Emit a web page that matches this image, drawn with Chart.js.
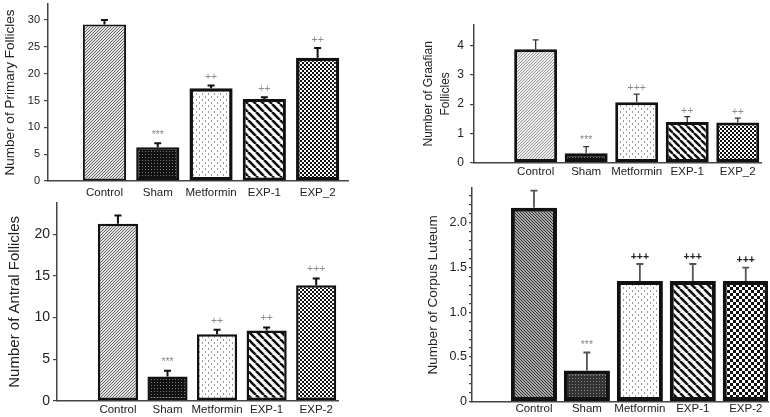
<!DOCTYPE html>
<html>
<head>
<meta charset="utf-8">
<script src="https://cdn.jsdelivr.net/npm/chart.js@4.4.0/dist/chart.umd.min.js"></script>
<style>
  body { margin: 0; background: #fff; }
  #page { position: relative; width: 770px; height: 417px; overflow: hidden; }
  canvas { position: absolute; }
</style>
</head>
<body>
<div id="page">
  <canvas id="primary"></canvas>
  <canvas id="graafian"></canvas>
  <canvas id="antral"></canvas>
  <canvas id="luteum"></canvas>
</div>
<script>
// group names
const groupsTop = ['Control', 'Sham', 'Metformin', 'EXP-1', 'EXP_2'];
const groupsBottom = ['Control', 'Sham', 'Metformin', 'EXP-1', 'EXP-2'];

// primary follicles
const primaryMeans = [29.2, 6.3, 17.3, 15.3, 23.0];
const primarySEM = [0.8, 0.75, 0.5, 0.3, 1.8];
const primaryMarks = ['', '***', '++', '++', '++'];
const primaryTicks = [0, 5, 10, 15, 20, 25, 30];

// graafian follicles
const graafianMeans = [3.87, 0.32, 2.06, 1.39, 1.37];
const graafianSEM = [0.32, 0.23, 0.28, 0.18, 0.15];
const graafianMarks = ['', '***', '+++', '++', '++'];
const graafianTicks = [0, 1, 2, 3, 4];

// antral follicles
const antralMeans = [21.3, 2.9, 8.0, 8.45, 13.9];
const antralSEM = [1.0, 0.7, 0.55, 0.37, 0.8];
const antralMarks = ['', '***', '++', '++', '+++'];
const antralTicks = [0, 5, 10, 15, 20];

// corpus luteum
const luteumMeans = [2.17, 0.35, 1.35, 1.35, 1.35];
const luteumSEM = [0.19, 0.2, 0.19, 0.19, 0.15];
const luteumMarks = ['', '***', '+++', '+++', '+++'];
const luteumTicks = [0, 0.5, 1.0, 1.5, 2.0];
const luteumTickLabels = ['0', '0.5', '1.0', '1.5', '2.0'];

const FONT = 'Liberation Sans, Arial, sans-serif';

// small canvas tiles for the bar fills
function pattern(kind, size, bg, fg, lw) {
    const c = document.createElement('canvas');
    c.width = c.height = size;
    const g = c.getContext('2d');
    g.fillStyle = bg;
    g.fillRect(0, 0, size, size);
    g.fillStyle = fg;
    g.strokeStyle = fg;
    g.lineWidth = lw || 1;
    if (kind === 'fwd' || kind === 'back') {
        for (const k of [-size, 0, size]) {
            g.beginPath();
            if (kind === 'fwd') { g.moveTo(k, size); g.lineTo(k + size, 0); }
            else { g.moveTo(k, 0); g.lineTo(k + size, size); }
            g.stroke();
        }
    } else if (kind === 'dots') {
        g.fillRect(1, 1, 1, 1);
    } else if (kind === 'dash') {
        g.fillRect(1, 0, 1, 2);
        g.fillRect(size / 2 + 1, size / 2, 1, 2);
    } else if (kind === 'checker') {
        const h = size / 2;
        g.fillRect(0, 0, h, h);
        g.fillRect(h, h, h, h);
    }
    return g.createPattern(c, 'repeat');
}

const errorBars = {
    id: 'errorBars',
    afterDatasetsDraw(chart, args, opts) {
        const {ctx} = chart;
        const y = chart.scales.y;
        const points = chart.data.datasets[0].data;
        ctx.save();
        chart.getDatasetMeta(0).data.forEach((bar, i) => {
            const top = y.getPixelForValue(points[i].y + opts.err[i]);
            ctx.strokeStyle = opts.color;
            ctx.lineWidth = opts.width;
            ctx.beginPath();
            ctx.moveTo(bar.x, bar.y);
            ctx.lineTo(bar.x, top);
            ctx.moveTo(bar.x - opts.cap / 2, top);
            ctx.lineTo(bar.x + opts.cap / 2, top);
            ctx.stroke();
            const mark = opts.marks[i];
            if (mark) {
                const dark = opts.darkPlus && mark[0] === '+';
                ctx.fillStyle = dark ? '#222' : '#8a8a8a';
                ctx.font = dark ? 'bold 10.5px ' + FONT : '10.5px ' + FONT;
                ctx.textAlign = 'center';
                ctx.textBaseline = 'middle';
                ctx.fillText(mark, bar.x, top - opts.gap);
            }
        });
        ctx.restore();
    }
};
Chart.register(errorBars);

// p.area = [left, right, top, bottom] of the plot inside the canvas
function panel(id, p) {
    const cv = document.getElementById(id);
    cv.width = p.w;
    cv.height = p.h;
    cv.style.left = p.left + 'px';
    cv.style.top = p.top + 'px';
    return new Chart(cv, {
        type: 'bar',
        data: {
            datasets: [{
                data: p.means.map((v, i) => ({x: i, y: v})),
                backgroundColor: p.fills,
                borderColor: '#111',
                borderWidth: p.border,
                borderSkipped: false,
                categoryPercentage: 1,
                barPercentage: p.barPct
            }]
        },
        options: {
            responsive: false,
            animation: false,
            layout: {padding: {left: 0, right: p.w - p.area[1], top: p.area[2], bottom: 0}},
            plugins: {
                legend: {display: false},
                tooltip: {enabled: false},
                errorBars: p.err
            },
            scales: {
                x: {
                    type: 'linear',
                    min: p.xRange[0],
                    max: p.xRange[1],
                    offset: false,
                    grid: {display: false, drawTicks: false},
                    border: {display: true, color: '#444', width: 1.5},
                    afterBuildTicks: s => { s.ticks = p.groups.map((g, i) => ({value: i})); },
                    afterFit: s => { s.height = p.h - p.area[3]; s.paddingLeft = 0; s.paddingRight = 0; },
                    ticks: {
                        autoSkip: false, maxRotation: 0,
                        padding: p.xPad, color: '#222',
                        font: {family: FONT, size: 11.5},
                        callback: v => p.groups[v]
                    }
                },
                y: {
                    min: 0,
                    max: p.yMax,
                    grid: {display: true, drawOnChartArea: false, tickLength: p.tickLen, color: '#444', lineWidth: 1.2},
                    border: {display: true, color: '#444', width: 1.5},
                    afterBuildTicks: s => { s.ticks = p.ticks.map(v => ({value: v})); },
                    afterFit: s => { s.width = p.area[0]; s.paddingTop = 0; s.paddingBottom = 0; },
                    ticks: {
                        autoSkip: false,
                        padding: p.yPad, color: '#222',
                        font: {family: FONT, size: p.tickFont},
                        callback: p.tickLabel || (v => String(v))
                    },
                    title: {
                        display: true, text: p.title, color: '#222',
                        font: {family: FONT, size: p.titleFont, lineHeight: p.titleLH || 1.2},
                        padding: {top: p.titlePad, bottom: 0}
                    }
                }
            }
        }
    });
}

panel('primary', {
    left: 0, top: 0, w: 385, h: 200, area: [48, 348, 4, 181],
    xRange: [-1.06, 4.57], yMax: 33,
    groups: groupsTop, means: primaryMeans, ticks: primaryTicks,
    fills: [
        pattern('fwd', 3, '#e2e2e2', '#666'),
        pattern('dots', 3, '#111', '#777'),
        pattern('dash', 6, '#fff', '#999'),
        pattern('back', 8, '#fff', '#111', 2.6),
        pattern('checker', 4, '#fff', '#111')
    ],
    border: [2, 2.5, 3.5, 3, 3.5], barPct: 0.81,
    xPad: 5, yPad: 4, tickLen: 4, tickFont: 11,
    title: 'Number of Primary Follicles', titleFont: 13.5, titlePad: 2,
    err: {err: primarySEM, marks: primaryMarks, color: '#111', width: 2, cap: 7, gap: 8}
});

panel('graafian', {
    left: 400, top: 0, w: 370, h: 185, area: [74, 361, 25, 162.7],
    xRange: [-1.22, 4.46], yMax: 4.7,
    groups: groupsTop, means: graafianMeans, ticks: graafianTicks,
    fills: [
        pattern('fwd', 3, '#eee', '#999'),
        pattern('dots', 3, '#151515', '#777'),
        pattern('dash', 6, '#fff', '#999'),
        pattern('back', 7, '#fff', '#111', 2.4),
        pattern('checker', 4, '#fff', '#111')
    ],
    border: 3, barPct: 0.85,
    xPad: 2.5, yPad: 6, tickLen: 4, tickFont: 12,
    title: ['Number of Graafian', 'Follicles'], titleFont: 12, titleLH: 1.4, titlePad: 20,
    err: {err: graafianSEM, marks: graafianMarks, color: '#333', width: 1.3, cap: 6, gap: 6}
});

panel('antral', {
    left: 0, top: 195, w: 385, h: 222, area: [57, 338, 8, 205.7],
    xRange: [-1.23, 4.44], yMax: 23.8,
    groups: groupsBottom, means: antralMeans, ticks: antralTicks,
    fills: [
        pattern('fwd', 3, '#e2e2e2', '#666'),
        pattern('dots', 3, '#111', '#777'),
        pattern('dash', 6, '#fff', '#999'),
        pattern('back', 8, '#fff', '#111', 2.6),
        pattern('checker', 4, '#fff', '#111')
    ],
    border: 2.5, barPct: 0.81,
    xPad: 2.5, yPad: 3, tickLen: 4, tickFont: 14,
    title: 'Number of Antral Follicles', titleFont: 15, titlePad: 6,
    err: {err: antralSEM, marks: antralMarks, color: '#111', width: 2, cap: 7, gap: 9}
});

panel('luteum', {
    left: 400, top: 185, w: 370, h: 232, area: [72, 368, 3, 216.7],
    xRange: [-1.17, 4.42], yMax: 2.39,
    groups: groupsBottom, means: luteumMeans,
    // minor ticks every 0.1, labels only on the major ones
    ticks: Array.from({length: 24}, (_, i) => i / 10),
    tickLabel: v => {
        const k = luteumTicks.findIndex(t => Math.abs(t - v) < 1e-6);
        return k < 0 ? '' : luteumTickLabels[k];
    },
    fills: [
        pattern('back', 3, '#a8a8a8', '#333'),
        pattern('dots', 3, '#333', '#888'),
        pattern('dash', 6, '#fff', '#999'),
        pattern('back', 8, '#fff', '#111', 2.6),
        pattern('checker', 6, '#fff', '#111')
    ],
    border: 4, barPct: 0.87,
    xPad: 0.5, yPad: 2, tickLen: 3, tickFont: 12.5,
    title: 'Number of Corpus Luteum', titleFont: 13.5, titlePad: 25,
    err: {err: luteumSEM, marks: luteumMarks, color: '#555', width: 1.8, cap: 7, gap: 7, darkPlus: true}
});
</script>
</body>
</html>
